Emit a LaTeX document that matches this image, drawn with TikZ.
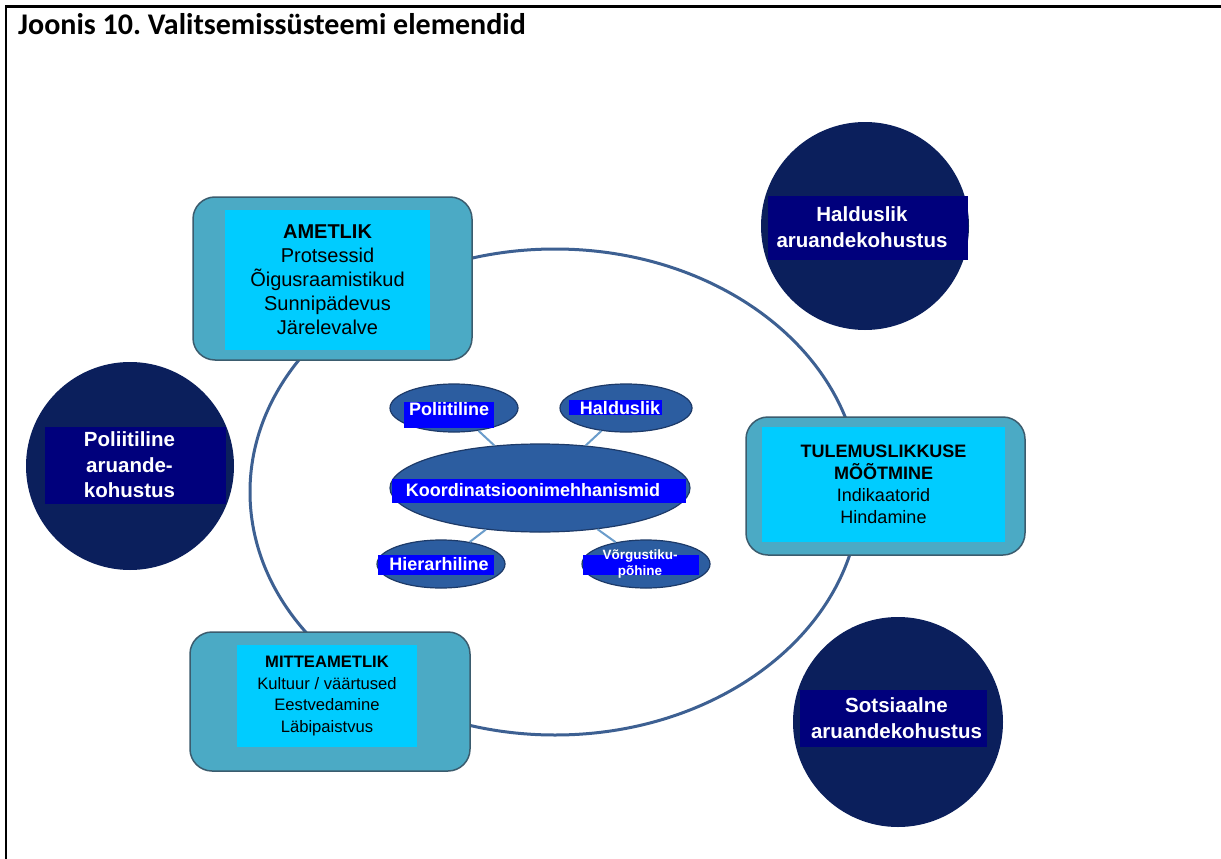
\documentclass[tikz,border=0pt]{standalone}
\usepackage{fontspec}
\setmainfont{Liberation Sans}
\newfontfamily\titlefont{Carlito}
\usetikzlibrary{shapes.geometric}
\frenchspacing
\definecolor{circnavy}{HTML}{0B1F5C}
\definecolor{labnavy}{HTML}{00007C}
\definecolor{tealfill}{HTML}{4BAAC5}
\definecolor{tealedge}{HTML}{3B5C6E}
\definecolor{cyanfill}{HTML}{00CCFF}
\definecolor{ellfill}{HTML}{2C5DA0}
\definecolor{elledge}{HTML}{1D3A68}
\definecolor{ringcol}{HTML}{3D6092}
\definecolor{conncol}{HTML}{6A9CCB}
\definecolor{pureblue}{HTML}{0000FF}
\tikzset{
  ringstyle/.style={draw=ringcol, line width=3pt, ellipse, inner sep=0pt},
  bigcircle/.style={circle, fill=circnavy, inner sep=0pt, minimum size=208pt},
  navylabel/.style={fill=labnavy, inner sep=0pt},
  whitetext/.style={text=white, font=\bfseries\fontsize{20.5}{25.5}\selectfont, align=center, inner sep=0pt},
  tealbox/.style={rounded corners=22pt, fill=tealfill, draw=tealedge, line width=1.5pt, inner sep=0pt},
  cyanbox/.style={fill=cyanfill, inner sep=0pt, align=center},
  smallell/.style={ellipse, fill=ellfill, draw=elledge, line width=1.2pt, inner sep=0pt},
  bluelabel/.style={fill=pureblue, inner sep=0pt},
  elltext/.style={text=white, font=\bfseries\fontsize{18}{20}\selectfont, inner sep=0pt, align=center},
  conn/.style={draw=conncol, line width=2pt},
}
\begin{document}
\begin{tikzpicture}[x=1pt,y=-1pt]
\useasboundingbox (0,0) rectangle (1221,859);
\fill[white] (0,0) rectangle (1221,859);
% frame
\draw[line width=2.5pt] (6,862) -- (6,6.5) -- (1224,6.5);
\node[anchor=base west, inner sep=0pt, font=\titlefont\bfseries\fontsize{30}{34}\selectfont] (title) at (18,35) {Joonis 10. Valitsemissüsteemi elemendid};

% ring
\node[ringstyle, minimum width=610pt, minimum height=486pt] (ring) at (555,492) {};

% outer circles
\node[bigcircle] (cH) at (865,226) {};
\node[navylabel, minimum width=200pt, minimum height=64pt] (lH) at (868,228) {};
\node[whitetext] (tH) at (862,227) {Halduslik\\aruandekohustus};

\node[bigcircle] (cP) at (130,466) {};
\node[navylabel, minimum width=181pt, minimum height=77pt] (lP) at (135.5,465.5) {};
\node[whitetext] (tP) at (129.5,465) {Poliitiline\\aruande-\\kohustus};

\node[bigcircle, minimum size=210pt] (cS) at (898,722) {};
\node[navylabel, minimum width=187pt, minimum height=57pt] (lS) at (893.5,718.5) {};
\node[whitetext] (tS) at (896.5,718) {Sotsiaalne\\aruandekohustus};

% rounded boxes
\node[tealbox, minimum width=279pt, minimum height=163pt] (bA) at (332.5,278.5) {};
\node[cyanbox, minimum width=205pt, minimum height=140pt, font=\fontsize{20}{24}\selectfont] (iA) at (327.5,280) {\textbf{AMETLIK}\\Protsessid\\Õigusraamistikud\\Sunnipädevus\\Järelevalve};

\node[tealbox, minimum width=279pt, minimum height=138pt] (bT) at (885.5,486) {};
\node[cyanbox, minimum width=243pt, minimum height=115pt, font=\fontsize{18}{22}\selectfont] (iT) at (883.5,484.5) {\textbf{TULEMUSLIKKUSE}\\\textbf{MÕÕTMINE}\\Indikaatorid\\Hindamine};

\node[tealbox, minimum width=280pt, minimum height=139pt] (bM) at (330,701.5) {};
\node[cyanbox, minimum width=180pt, minimum height=102pt, font=\fontsize{16.6}{21.5}\selectfont] (iM) at (327,696) {\textbf{MITTEAMETLIK}\\Kultuur / väärtused\\Eestvedamine\\Läbipaistvus};

% coordination ellipses
\node[smallell, minimum width=300pt, minimum height=88pt] (koord) at (540,488) {};
\node[smallell, minimum width=128pt, minimum height=48pt] (epol) at (454,408) {};
\node[smallell, minimum width=132pt, minimum height=48pt] (ehal) at (626,408) {};
\node[smallell, minimum width=128pt, minimum height=48pt] (ehie) at (441,564) {};
\node[smallell, minimum width=128pt, minimum height=48pt] (evor) at (646,564) {};

\draw[conn] (epol) -- (koord);
\draw[conn] (ehal) -- (koord);
\draw[conn] (ehie) -- (koord);
\draw[conn] (evor) -- (koord);

\node[bluelabel, minimum width=90pt, minimum height=26pt] (bpol) at (449,415) {};
\node[elltext] (tpol) at (449,409) {Poliitiline};
\node[bluelabel, minimum width=93pt, minimum height=15pt] (bhal) at (615.5,407.5) {};
\node[elltext] (thal) at (620,408) {Halduslik};
\node[bluelabel, minimum width=294pt, minimum height=24pt] (bkoo) at (539,491) {};
\node[elltext] (tkoo) at (533,490) {Koordinatsioonimehhanismid};
\node[bluelabel, minimum width=116pt, minimum height=20pt] (bhie) at (436,565) {};
\node[elltext] (thie) at (439,564) {Hierarhiline};
\node[bluelabel, minimum width=116pt, minimum height=20pt] (bvor) at (641,565) {};
\node[elltext, font=\bfseries\fontsize{13.5}{16}\selectfont] (tvor) at (640,564) {Võrgustiku-\\põhine};
\end{tikzpicture}
\end{document}
